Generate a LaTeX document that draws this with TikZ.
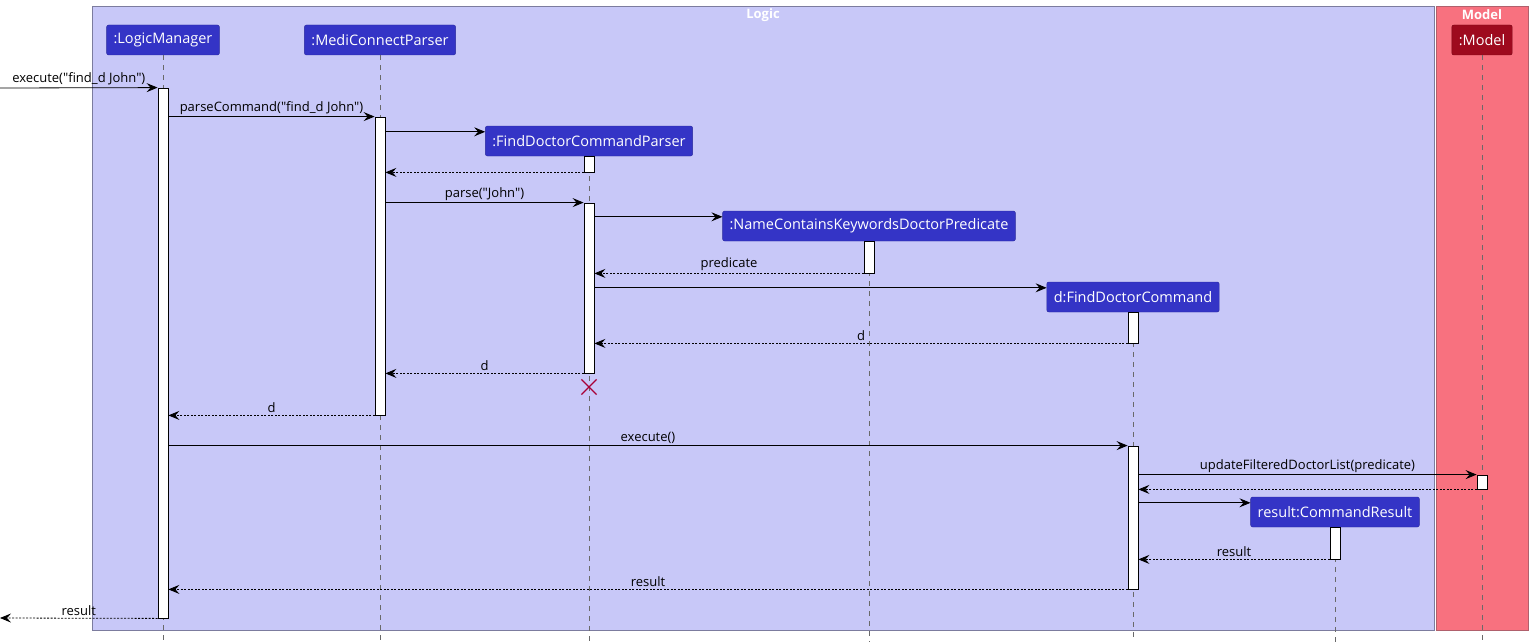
\documentclass[tikz,border=0pt]{standalone}
\usepackage{fontspec}
\setmainfont{Open Sans}[Ligatures=TeXOff]
\usetikzlibrary{arrows.meta,calc,shapes.misc}
\definecolor{logicbg}{HTML}{C8C8F8}
\definecolor{logicline}{HTML}{7C7C9E}
\definecolor{modelbg}{HTML}{F8717F}
\definecolor{modelline}{HTML}{B0606C}
\definecolor{partfill}{HTML}{3434C6}
\definecolor{partline}{HTML}{2A2A9C}
\definecolor{modelfill}{HTML}{9E0A1E}
\definecolor{modeledge}{HTML}{7A0616}
\definecolor{lifegray}{HTML}{6A6A6A}
\definecolor{killred}{HTML}{A80036}
\begin{document}
\begin{tikzpicture}[x=1pt,y=-1pt,
  font=\fontsize{13}{15}\selectfont,
  part/.style={draw=partline, fill=partfill, rounded corners=2pt, text=white,
    font=\fontsize{14.5}{17}\selectfont, minimum height=30pt, inner xsep=7pt},
  act/.style={draw, fill=white, minimum width=10pt, inner sep=0pt, line width=0.8pt},
  life/.style={draw=lifegray, dash pattern=on 5pt off 5pt, line width=0.6pt},
  call/.style={-{Stealth[length=11pt,width=9pt,inset=4pt]}, line width=0.8pt},
  ret/.style={call, dash pattern=on 2pt off 1.5pt},
  lbl/.style={above=1pt, inner sep=1pt},
  ttl/.style={text=white, font=\fontsize{13}{15}\selectfont\bfseries}
]
\useasboundingbox (0,0) rectangle (1533,642);
\path[draw=logicline, fill=logicbg] (92.5,6) rectangle (1434,630);
\path[draw=modelline, fill=modelbg] (1436.5,6) rectangle (1528.5,630);
\node[ttl] (logicT) at (763,15) {Logic};
\node[ttl] (modelT) at (1482,15) {Model};

\node[part] (lm) at (163,40) {:LogicManager};
\node[part] (mcp) at (380,40) {:MediConnectParser};
\node[part] (fdcp) at (589,141) {:FindDoctorCommandParser};
\node[part] (nckdp) at (869,226) {:NameContainsKeywordsDoctorPredicate};
\node[part] (fdc) at (1133,297) {d:FindDoctorCommand};
\node[part] (cr) at (1335,512) {result:CommandResult};
\node[part, draw=modeledge, fill=modelfill] (model) at (1482,40) {:Model};

\coordinate (bot) at (0,642);
\foreach \p in {lm,mcp,fdcp,nckdp,fdc,cr,model}
  \draw[life] (\p.south) -- (\p.south |- bot);

\node[act, minimum height=530pt] (lmA) at (lm |- 0,353) {};
\node[act, minimum height=298pt] (mcpA) at (mcp |- 0,266) {};
\node[act, minimum height=16pt] (fdcpA1) at (fdcp |- 0,164) {};
\node[act, minimum height=170pt] (fdcpA2) at (fdcp |- 0,288) {};
\node[act, minimum height=32pt] (nckdpA) at (nckdp |- 0,257) {};
\node[act, minimum height=31pt] (fdcA1) at (fdc |- 0,327.5) {};
\node[act, minimum height=143pt] (fdcA2) at (fdc |- 0,517.5) {};
\node[act, minimum height=14pt] (modelA) at (model |- 0,482) {};
\node[act, minimum height=32pt] (crA) at (cr |- 0,543) {};
\node[draw=killred, cross out, minimum size=14pt, line width=1.2pt] (fdcpX) at (fdcp |- 0,387) {};

\coordinate (in) at (0,88);
\coordinate (out) at (0,618);
\coordinate (fdcpIn) at ($(fdcp.north west)+(0,6)$);
\coordinate (nckdpIn) at ($(nckdp.north west)+(0,6)$);
\coordinate (fdcIn) at ($(fdc.north west)+(0,6)$);
\coordinate (crIn) at ($(cr.north west)+(0,6)$);

\draw[call] (in) -- node[lbl] {execute("find\_d John")} (lmA.north west);
\draw[call] (lmA.east |- mcpA.north) -- node[lbl] {parseCommand("find\_d John")} (mcpA.north west);
\draw[call] (mcpA.east |- fdcpIn) -- (fdcpIn);
\draw[ret] (fdcpA1.south west) -- (mcpA.east |- fdcpA1.south);
\draw[call] (mcpA.east |- fdcpA2.north) -- node[lbl] {parse("John")} (fdcpA2.north west);
\draw[call] (fdcpA2.east |- nckdpIn) -- (nckdpIn);
\draw[ret] (nckdpA.south west) -- node[lbl] {predicate} (fdcpA2.east |- nckdpA.south);
\draw[call] (fdcpA2.east |- fdcIn) -- (fdcIn);
\draw[ret] (fdcA1.south west) -- node[lbl] {d} (fdcpA2.east |- fdcA1.south);
\draw[ret] (fdcpA2.south west) -- node[lbl] {d} (mcpA.east |- fdcpA2.south);
\draw[ret] (mcpA.south west) -- node[lbl] {d} (lmA.east |- mcpA.south);
\draw[call] (lmA.east |- fdcA2.north) -- node[lbl] {execute()} (fdcA2.north west);
\draw[call] (fdcA2.east |- modelA.north) -- node[lbl] {updateFilteredDoctorList(predicate)} (modelA.north west);
\draw[ret] (modelA.south west) -- (fdcA2.east |- modelA.south);
\draw[call] (fdcA2.east |- crIn) -- (crIn);
\draw[ret] (crA.south west) -- node[lbl] {result} (fdcA2.east |- crA.south);
\draw[ret] (fdcA2.south west) -- node[lbl] {result} (lmA.east |- fdcA2.south);
\draw[ret] (lmA.south west) -- node[lbl] {result} (out);
\end{tikzpicture}
\end{document}
